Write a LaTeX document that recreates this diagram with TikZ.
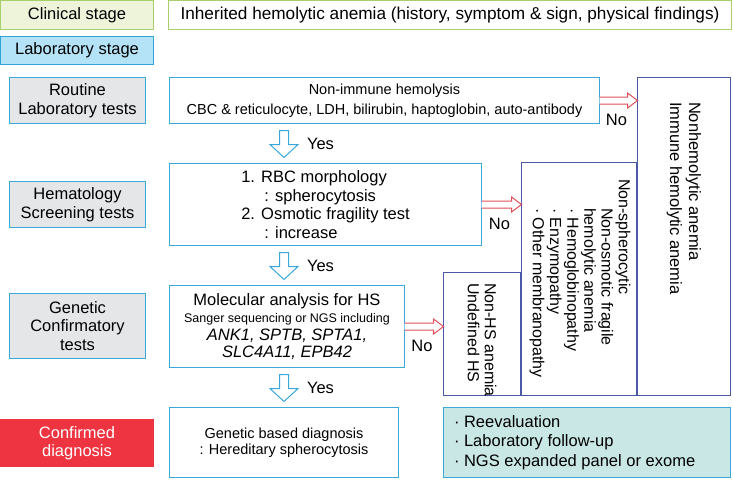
\documentclass[tikz,border=0pt]{standalone}
\usepackage{fontspec}
\setmainfont{Liberation Sans}
\usetikzlibrary{calc,positioning}

\definecolor{clinfill}{HTML}{EEF4DA}
\definecolor{clinline}{HTML}{A8CF6A}
\definecolor{labfill}{HTML}{B4E2F6}
\definecolor{labline}{HTML}{2FA5D8}
\definecolor{grayfill}{HTML}{E5E6E8}
\definecolor{boxline}{HTML}{3AA8DA}
\definecolor{navy}{HTML}{4B58A8}
\definecolor{tealfill}{HTML}{C9E8E5}
\definecolor{confred}{HTML}{EE3440}
\definecolor{arrred}{HTML}{E0505A}

\begin{document}
\begin{tikzpicture}[x=1pt,y=-1pt,
    every node/.style={font=\fontsize{16.5}{19}\selectfont, inner sep=0pt, outer sep=0pt},
    stage/.style={draw, line width=1.2pt, align=center},
    test/.style={stage, draw=boxline, fill=grayfill},
    flow/.style={stage, draw=boxline, fill=white},
    other/.style={draw=navy, line width=1.2pt, fill=white},
    vtext/.style={rotate=-90, anchor=west, align=left},
    noarrow/.style={draw=arrred, line width=1pt, fill=white},
    yesarrow/.style={draw=boxline, line width=1pt, fill=white}]
\useasboundingbox (0,0) rectangle (733,479);

% stages
\node[stage, draw=clinline, fill=clinfill, minimum width=153, minimum height=29] (clin) at (77,15) {Clinical stage};
\node[stage, draw=clinline, fill=white, minimum width=563, minimum height=29, font=\fontsize{17.2}{19}\selectfont] (inh) at (450,15) {Inherited hemolytic anemia (history, symptom \& sign, physical findings)};
\node[stage, draw=labline, fill=labfill, minimum width=153, minimum height=28] (lab) at (77,50.5) {Laboratory stage};

% left column
\node[test, minimum width=136, minimum height=46] (routine) at (77.5,100.5) {Routine\\Laboratory tests};
\node[test, minimum width=136, minimum height=46] (hema) at (77.5,204.5) {Hematology\\Screening tests};
\node[test, minimum width=136, minimum height=65, font=\fontsize{16.5}{18.5}\selectfont] (genetic) at (77.5,326) {Genetic\\Confirmatory\\tests};
\node[fill=confred, text=white, align=center, minimum width=154, minimum height=48, font=\fontsize{16.5}{18}\selectfont] (confirmed) at (77,443) {Confirmed\\diagnosis};

% main flow
\node[flow, minimum width=430, minimum height=46, font=\fontsize{14.5}{20}\selectfont] (nonimm) at (384.5,100.5) {Non-immune hemolysis\\CBC \& reticulocyte, LDH, bilirubin, haptoglobin, auto-antibody};
\node[flow, align=left, minimum width=312, minimum height=82, font=\fontsize{16.5}{18.5}\selectfont] (rbc) at (325.5,204.5) {1. RBC morphology\\\hspace*{1.4em}: spherocytosis\\2. Osmotic fragility test\\\hspace*{1.4em}: increase};
\node[flow, minimum width=235, minimum height=82, font=\fontsize{16.5}{17.5}\selectfont] (mol) at (287,326.5) {Molecular analysis for HS\\{\fontsize{12.5}{17.5}\selectfont Sanger sequencing or NGS including}\\\textit{ANK1, SPTB, SPTA1,}\\\textit{SLC4A11, EPB42}};
\node[flow, minimum width=229, minimum height=70, font=\fontsize{14.5}{16.5}\selectfont] (gendx) at (284,442.5) {Genetic based diagnosis\\: Hereditary spherocytosis};

% other diagnoses
\node[other, minimum width=93, minimum height=318] (nonhem) at (684,236.5) {};
\node[other, minimum width=115, minimum height=233] (nonsph) at (579,279) {};
\node[other, minimum width=77, minimum height=123] (nonhs) at (482,334) {};
\node[draw=boxline, line width=1.2pt, fill=tealfill, minimum width=287, minimum height=70] (reeval) at (587,442.5) {};

\node[vtext] (nonhemtxt) at (nonhem.north |- 0,102) {Nonhemolytic anemia\\Immune hemolytic anemia};
\node[vtext, font=\fontsize{16}{17.2}\selectfont] (nonsphtxt) at (580,208) {\hspace*{-1.8em}Non-spherocytic\\Non-osmotic fragile\\hemolytic anemia\\· Hemoglobinopathy\\· Enzymopathy\\· Other membranopathy};
\node[vtext, font=\fontsize{16}{17}\selectfont] (nonhstxt) at (482,283) {Non-HS anemia\\Undefined HS};
\node[anchor=west, align=left, font=\fontsize{16.5}{19.5}\selectfont] (reevaltxt) at (454,442.5) {· Reevaluation\\· Laboratory follow-up\\· NGS expanded panel or exome};

% yes arrows
\foreach \a/\b in {nonimm/rbc, rbc/mol, mol/gendx} {
  \draw[yesarrow] ($(gendx.north|-\a.south)+(-4.5,7)$) -- ($(gendx.north|-\b.north)+(-4.5,-19)$) -- ++(-9.5,0)
    -- ($(gendx.north|-\b.north)+(0,-6)$) -- ++(14,-13) -- ++(-9.5,0) -- ($(gendx.north|-\a.south)+(4.5,7)$) -- cycle;
  \node[anchor=west] (yes-\a) at ($(gendx.north|-\a.south)!0.5!(gendx.north|-\b.north)+(23,0)$) {Yes};
}

% no arrows
\foreach \a/\b in {nonimm/nonhem, rbc/nonsph, mol/nonhs} {
  \draw[noarrow] ($(\a.east)+(0,-3.5)$) -- ($(\b.west|-\a.east)+(-10,-3.5)$) -- ($(\b.west|-\a.east)+(-10,-7.5)$)
    -- (\b.west|-\a.east) -- ($(\b.west|-\a.east)+(-10,7.5)$) -- ($(\b.west|-\a.east)+(-10,3.5)$) -- ($(\a.east)+(0,3.5)$);
  \node (no-\a) at ($(\a.east)!0.5!(\b.west|-\a.east)+(-2,19)$) {No};
}
\end{tikzpicture}
\end{document}
